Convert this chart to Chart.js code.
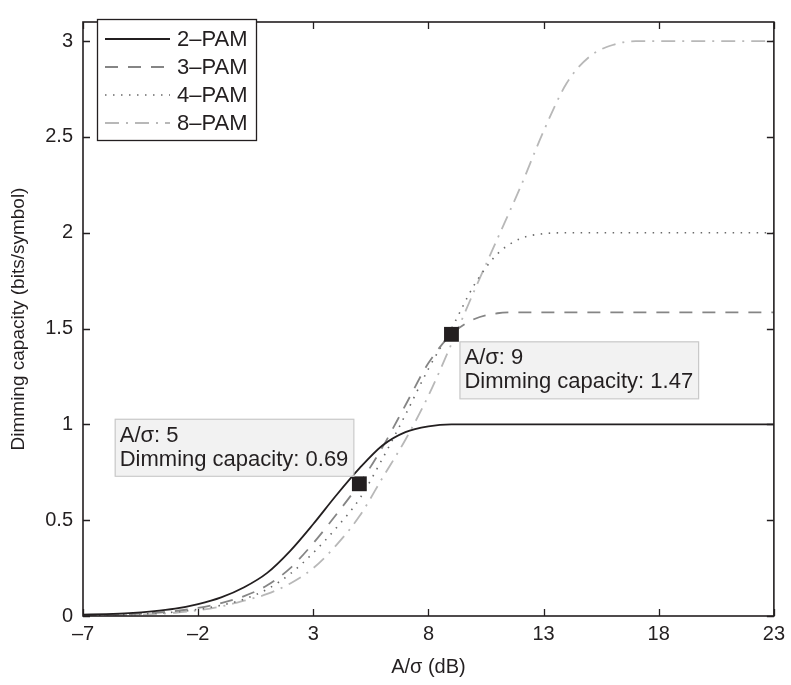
<!DOCTYPE html>
<html>
<head>
<meta charset="utf-8">
<script src="https://cdn.jsdelivr.net/npm/chart.js@4.4.1/dist/chart.umd.min.js"></script>
<style>
html,body{margin:0;padding:0;background:#fff;}
#wrap{width:791px;height:685px;}
</style>
</head>
<body>
<div id="wrap"><canvas id="c" width="791" height="685"></canvas></div>
<script>
// A/σ in dB
const snrDb = [-7,-6,-5,-4,-3,-2,-1,0,1,2,3,4,5,6,7,8,9,10,11,12,13,14,15,16,17,18,19,20,21,22,23];
const pam2 = [0.007,0.010,0.015,0.024,0.038,0.062,0.097,0.150,0.225,0.340,0.480,0.630,0.770,0.890,0.960,0.990,1.000,1,1,1,1,1,1,1,1,1,1,1,1,1,1];
const pam3 = [0.004,0.006,0.010,0.016,0.026,0.042,0.067,0.104,0.160,0.250,0.380,0.530,0.690,0.880,1.100,1.320,1.470,1.550,1.580,1.585,1.585,1.585,1.585,1.585,1.585,1.585,1.585,1.585,1.585,1.585,1.585];
const pam4 = [0.003,0.005,0.008,0.013,0.021,0.035,0.056,0.088,0.140,0.220,0.330,0.460,0.610,0.820,1.050,1.290,1.500,1.730,1.890,1.970,1.995,2,2,2,2,2,2,2,2,2,2];
const pam8 = [0.002,0.004,0.006,0.010,0.017,0.030,0.050,0.080,0.115,0.170,0.250,0.370,0.520,0.720,0.920,1.150,1.420,1.700,1.970,2.240,2.530,2.780,2.920,2.980,3.000,3,3,3,3,3,3];
const seriesNames = ['2\u2013PAM','3\u2013PAM','4\u2013PAM','8\u2013PAM'];
const markX = [5, 9];
const markY = [0.69, 1.47];
const xTicks = [-7,-2,3,8,13,18,23];
const yTicks = [0,0.5,1,1.5,2,2.5,3];
const xTitle = 'A/\u03c3 (dB)';
const yTitle = 'Dimming capacity (bits/symbol)';

const INK = '#231f20';
const toPts = arr => snrDb.map((x,i)=>({x:x,y:arr[i]}));
const styles = [
  {color:INK, dash:[], width:1.8},
  {color:'#858585', dash:[13,10], width:1.8},
  {color:'#6a6a6a', dash:[1.5,6.5], width:1.6},
  {color:'#b8b8b8', dash:[14,7,2,7], width:1.8}
];
const data4 = [pam2,pam3,pam4,pam8];
const datasets = data4.map((arr,i)=>({
  label: seriesNames[i],
  data: toPts(arr),
  borderColor: styles[i].color,
  borderDash: styles[i].dash,
  borderWidth: styles[i].width,
  pointRadius: 0,
  fill: false,
  cubicInterpolationMode: 'monotone',
  order: i+1
}));
datasets.push({
  label: 'marks',
  data: markX.map((x,i)=>({x:x,y:markY[i]})),
  showLine: false,
  pointStyle: 'rect',
  pointRadius: 10.5,
  pointBackgroundColor: INK,
  pointBorderColor: INK,
  pointBorderWidth: 0,
  order: -1
});

const fmt = v => (v<0 ? '\u2013'+Math.abs(v) : String(v));
const TXT = '22px "Liberation Sans", Arial, sans-serif';

const framePlugin = {
  id:'frame',
  afterDatasetsDraw(chart){
    const {ctx, chartArea:a, scales:{x,y}} = chart;
    ctx.save();
    ctx.strokeStyle = INK;
    ctx.lineWidth = 1.3;
    ctx.setLineDash([]);
    const tl = 7;
    ctx.beginPath();
    xTicks.forEach(v=>{
      const px = Math.round(x.getPixelForValue(v))+0.5;
      ctx.moveTo(px,a.bottom); ctx.lineTo(px,a.bottom-tl);
      ctx.moveTo(px,a.top); ctx.lineTo(px,a.top+tl);
    });
    yTicks.forEach(v=>{
      const py = Math.round(y.getPixelForValue(v))+0.5;
      ctx.moveTo(a.left,py); ctx.lineTo(a.left+tl,py);
      ctx.moveTo(a.right,py); ctx.lineTo(a.right-tl,py);
    });
    ctx.stroke();
    ctx.lineWidth = 1.6;
    ctx.strokeRect(a.left, a.top, a.right-a.left, a.bottom-a.top);

    // annotation boxes
    ctx.font = TXT;
    ctx.textBaseline = 'middle';
    const boxes = [
      {i:0, lines:['A/\u03c3: '+markX[0], 'Dimming capacity: '+markY[0].toFixed(2)], side:'left'},
      {i:1, lines:['A/\u03c3: '+markX[1], 'Dimming capacity: '+markY[1].toFixed(2)], side:'right'}
    ];
    boxes.forEach(b=>{
      const mx = x.getPixelForValue(markX[b.i]);
      const my = y.getPixelForValue(markY[b.i]);
      const w = Math.max(...b.lines.map(t=>ctx.measureText(t).width)) + 10;
      const h = 57;
      let bx, by;
      if (b.side==='left'){ bx = mx - 6 - w; by = my - 8 - h; }
      else { bx = mx + 8; by = my + 7; }
      ctx.fillStyle = '#f2f2f2';
      ctx.fillRect(bx,by,w,h);
      ctx.strokeStyle = '#c9c9c9';
      ctx.lineWidth = 1.2;
      ctx.strokeRect(bx+0.5,by+0.5,w,h);
      ctx.fillStyle = INK;
      ctx.textAlign = 'left';
      ctx.fillText(b.lines[0], bx+5, by+17);
      ctx.fillText(b.lines[1], bx+5, by+41);
    });

    // legend
    const lx = 97, ly = 19, lw = 159, lh = 121;
    ctx.fillStyle = '#fff';
    ctx.fillRect(lx,ly,lw,lh);
    ctx.strokeStyle = INK;
    ctx.lineWidth = 1.3;
    ctx.strokeRect(lx+0.5,ly+0.5,lw,lh);
    seriesNames.forEach((n,i)=>{
      const yy = ly + 20 + i*28;
      ctx.strokeStyle = styles[i].color;
      ctx.lineWidth = styles[i].width;
      ctx.setLineDash(styles[i].dash);
      ctx.beginPath();
      ctx.moveTo(lx+8, yy); ctx.lineTo(lx+73, yy);
      ctx.stroke();
      ctx.setLineDash([]);
      ctx.fillStyle = INK;
      ctx.font = TXT;
      ctx.fillText(n, lx+80, yy+1);
    });
    ctx.restore();
  }
};

new Chart(document.getElementById('c'), {
  type:'line',
  data:{datasets:datasets},
  options:{
    responsive:false,
    animation:false,
    devicePixelRatio:1,
    layout:{padding:{top:5,right:15,left:0,bottom:0}},
    plugins:{legend:{display:false},tooltip:{enabled:false}},
    scales:{
      x:{
        type:'linear', min:-7, max:23,
        afterFit(s){ s.height = 69; },
        afterBuildTicks(s){ s.ticks = xTicks.map(v=>({value:v})); },
        grid:{display:false, drawTicks:false},
        border:{display:false},
        ticks:{callback:fmt, padding:6, color:INK, font:{family:'"Liberation Sans Narrow","Liberation Sans",Arial', size:20}, maxRotation:0},
        title:{display:true, text:xTitle, color:INK, font:{family:'"Liberation Sans Narrow","Liberation Sans",Arial', size:20}, padding:{top:0,bottom:6}}
      },
      y:{
        type:'linear', min:0, max:3.1,
        afterFit(s){ s.width = 83; },
        afterBuildTicks(s){ s.ticks = yTicks.map(v=>({value:v})); },
        grid:{display:false, drawTicks:false},
        border:{display:false},
        ticks:{callback:fmt, padding:10, color:INK, font:{family:'"Liberation Sans Narrow","Liberation Sans",Arial', size:20}},
        title:{display:true, text:yTitle, color:INK, font:{family:'"Liberation Sans", Arial', size:19}, padding:{top:7,bottom:0}}
      }
    }
  },
  plugins:[framePlugin]
});
</script>
</body>
</html>
